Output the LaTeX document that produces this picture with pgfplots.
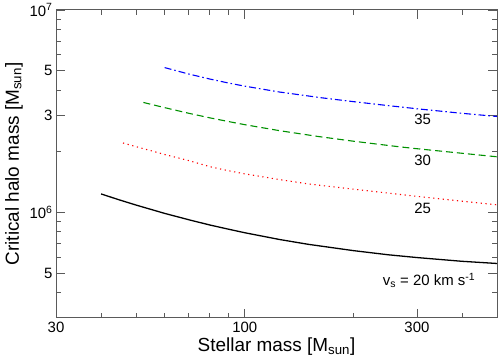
\documentclass[border=0pt]{standalone}
\usepackage{fontspec}
\setmainfont{Liberation Sans}
\usepackage{pgfplots}
\pgfplotsset{compat=1.18}

\definecolor{curvered}{RGB}{255,0,0}
\definecolor{curvegreen}{RGB}{0,145,0}
\definecolor{curveblue}{RGB}{0,0,255}
\definecolor{framegray}{RGB}{90,90,90}

\begin{document}
\begin{tikzpicture}
\begin{axis}[
  scale only axis, width=441bp, height=308bp,
  xmode=log, ymode=log,
  xmin=30, xmax=500, ymin=3e5, ymax=1e7,
  xtick={30,100,300}, xticklabels={30,100,300},
  minor xtick={40,50,60,70,80,90,200,400},
  ytick={5e5,1e6,3e6,5e6,1e7},
  yticklabels={5,10\textsuperscript{6},3,5,10\textsuperscript{7}},
  minor ytick={4e5,6e5,7e5,8e5,9e5,2e6,4e6,6e6,7e6,8e6,9e6},
  tick align=inside, major tick length=9bp, minor tick length=5bp,
  axis line style={framegray, line width=1pt},
  every tick/.style={framegray, line width=0.8pt},
  tick label style={font=\fontsize{15}{18}\selectfont},
  xticklabel style={yshift=-1bp},
  label style={font=\fontsize{19}{22}\selectfont},
  xlabel={Stellar mass [M\textsubscript{sun}]},
  ylabel={Critical halo mass [M\textsubscript{sun}]},
  xlabel style={yshift=2bp},
]
% v_s = 20 km/s
\addplot[black, line width=1.3pt] coordinates {
 (40,1.2315e6) (45,1.150e6) (50,1.085e6) (60,9.87e5) (70,9.18e5) (80,8.65e5)
 (90,8.25e5) (100,7.92e5) (125,7.33e5) (150,6.94e5) (200,6.46e5) (250,6.16e5)
 (300,5.97e5) (400,5.72e5) (500,5.58e5)};
% 25
\addplot[curvered, line width=1.1pt, dash pattern=on 1.2pt off 3.6pt] coordinates {
 (46,2.20e6) (50,2.11e6) (60,1.93e6) (70,1.80e6) (80,1.68e6) (90,1.605e6)
 (100,1.548e6) (125,1.450e6) (150,1.38e6) (200,1.30e6) (250,1.243e6)
 (300,1.198e6) (400,1.134e6) (500,1.088e6)};
% 30
\addplot[curvegreen, line width=1.1pt, dash pattern=on 7pt off 4pt] coordinates {
 (52.4,3.49e6) (60,3.29e6) (70,3.085e6) (80,2.93e6) (90,2.81e6) (100,2.71e6)
 (125,2.53e6) (160,2.368e6) (200,2.245e6) (269,2.105e6) (300,2.061e6)
 (400,1.957e6) (500,1.880e6)};
% 35
\addplot[curveblue, line width=1.1pt, dash pattern=on 7pt off 3pt on 1.5pt off 3pt] coordinates {
 (60,5.19e6) (70,4.823e6) (80,4.557e6) (90,4.357e6) (100,4.201e6) (125,3.929e6)
 (163,3.682e6) (200,3.523e6) (250,3.366e6) (306,3.236e6) (400,3.084e6) (500,2.975e6)};

\node[font=\fontsize{15}{18}\selectfont] at (axis cs:311,2.87e6) {35};
\node[font=\fontsize{15}{18}\selectfont] at (axis cs:311,1.80e6) {30};
\node[font=\fontsize{15}{18}\selectfont] at (axis cs:311,1.043e6) {25};
\node[font=\fontsize{15}{18}\selectfont] at (axis cs:324,4.6e5)
  {v\textsubscript{s} = 20 km s\textsuperscript{-1}};
\end{axis}
\pgfresetboundingbox
\path[use as bounding box] ([xshift=-56bp,yshift=-44bp]current axis.south west)
  rectangle ([xshift=1bp,yshift=10bp]current axis.north east);
\end{tikzpicture}
\end{document}
